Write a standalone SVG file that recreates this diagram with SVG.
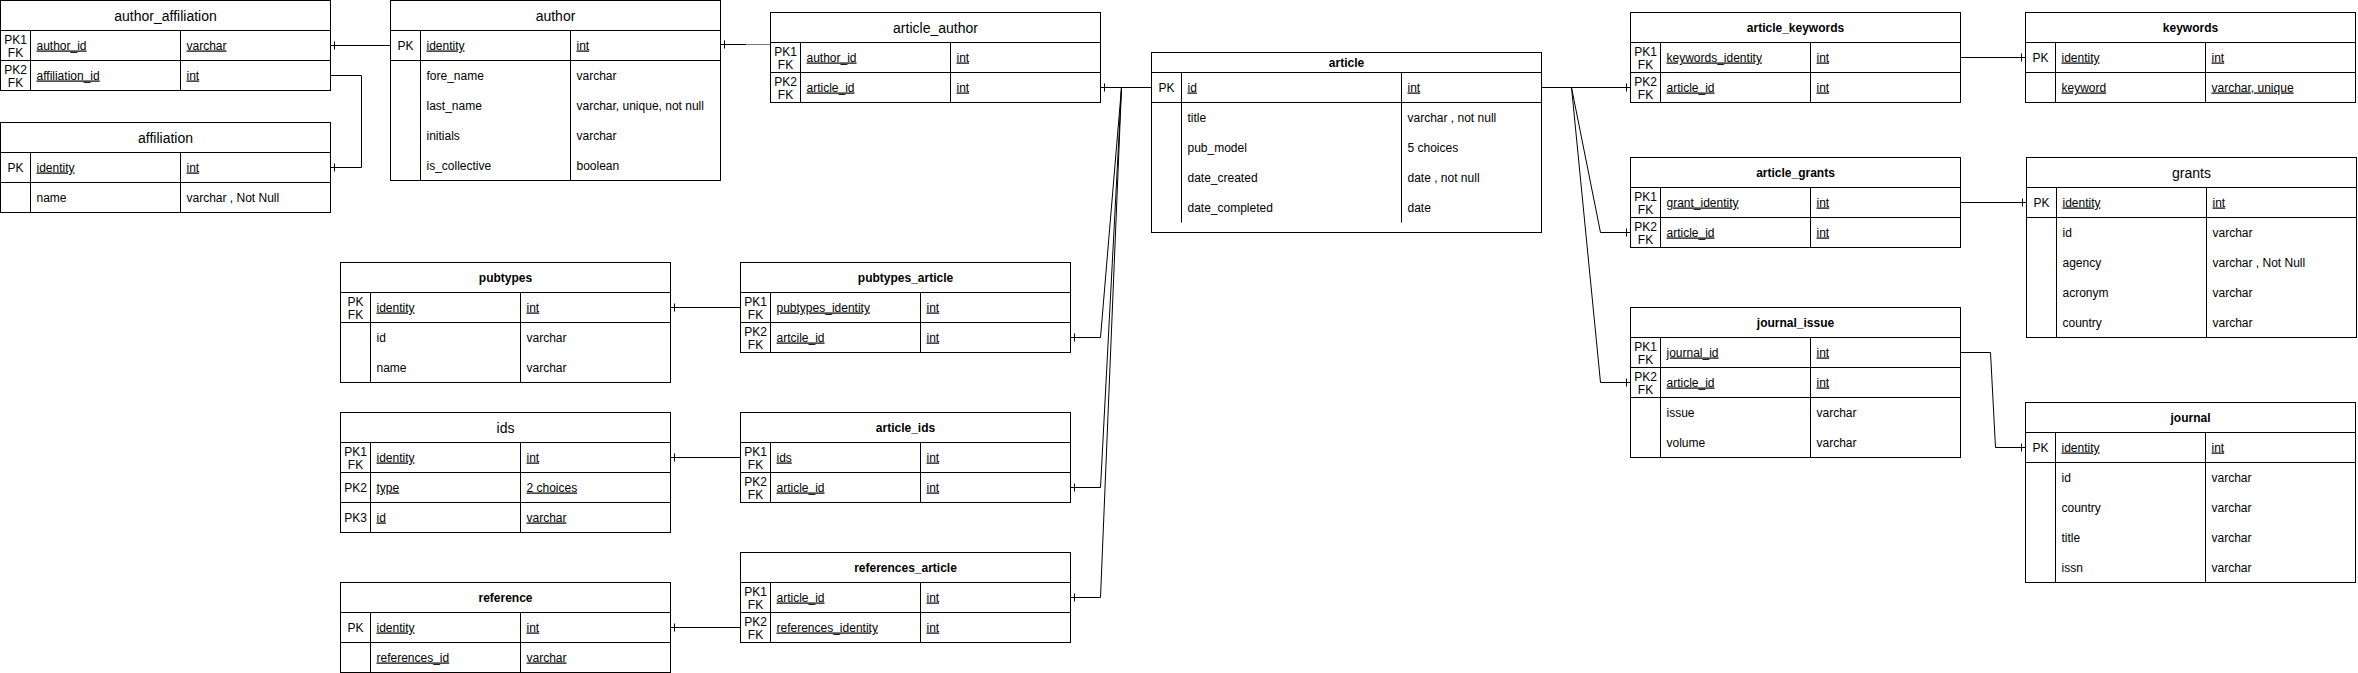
<svg xmlns="http://www.w3.org/2000/svg" width="2358" height="673" viewBox="0 0 2358 673">
<style>
.b{fill:#fff;stroke:#000;stroke-width:1}
.l{stroke:#000;stroke-width:1;fill:none}
.t{font-family:"Liberation Sans",Arial,sans-serif;font-size:12px;fill:#000}
.k{text-anchor:middle}
.h14{font-size:14px;text-anchor:middle}
.hb{font-weight:bold;text-anchor:middle}
.u{text-decoration:underline}
</style>
<rect width="2358" height="673" fill="#fff"/>

<g id="connectors">
<path class="l" d="M330.5 45.5H390.5M334.5 41.5V49.5"/>
<path class="l" d="M330.5 75.5H361.5V167.5H330.5M334.5 163.5V171.5"/>
<path class="l" d="M720.5 44.5H746M724.5 40.5V48.5"/>
<path d="M746 44.5H777" stroke="#777" stroke-width="1"/>
<path class="l" d="M1151.5 87.5H1100.5M1104.5 83.5V91.5"/>
<path class="l" d="M1121.5 87.5L1100.5 337.5H1070.5M1074.5 333.5V341.5"/>
<path class="l" d="M1121.5 87.5L1100.5 487.5H1070.5M1074.5 483.5V491.5"/>
<path class="l" d="M1121.5 87.5L1100.5 597.5H1070.5M1074.5 593.5V601.5"/>
<path class="l" d="M1541.5 87.5H1630.5M1626.5 83.5V91.5"/>
<path class="l" d="M1571.5 87.5L1600.5 232.5H1630.5M1626.5 228.5V236.5"/>
<path class="l" d="M1571.5 87.5L1600.5 382.5H1630.5M1626.5 378.5V386.5"/>
<path class="l" d="M1960.5 57.5H2025.5M2021.5 53.5V61.5"/>
<path class="l" d="M1960.5 202.5H2026.5M2022.5 198.5V206.5"/>
<path class="l" d="M1960.5 352.5H1990.5L1995.5 447.5H2025.5M2021.5 443.5V451.5"/>
<path class="l" d="M670.5 307.5H740.5M674.5 303.5V311.5"/>
<path class="l" d="M670.5 457.5H740.5M674.5 453.5V461.5"/>
<path class="l" d="M670.5 627.5H740.5M674.5 623.5V631.5"/>
</g>

<g id="author_affiliation">
<rect class="b" x="0.5" y="0.5" width="330" height="90"/>
<path class="l" d="M0.5 30.5H330.5M0.5 60.5H330.5M30.5 30.5V90.5M180.5 30.5V90.5"/>
<text class="t h14" x="165.5" y="20.5">author_affiliation</text>
<text class="t k" x="15.5" y="44">PK1<tspan x="15.5" dy="13">FK</tspan></text>
<text class="t u" x="36.5" y="49.5">author_id</text><text class="t u" x="186.5" y="49.5">varchar</text>
<text class="t k" x="15.5" y="74">PK2<tspan x="15.5" dy="13">FK</tspan></text>
<text class="t u" x="36.5" y="79.5">affiliation_id</text><text class="t u" x="186.5" y="79.5">int</text>
</g>

<g id="affiliation">
<rect class="b" x="0.5" y="122.5" width="330" height="90"/>
<path class="l" d="M0.5 152.5H330.5M0.5 182.5H330.5M30.5 152.5V212.5M180.5 152.5V212.5"/>
<text class="t h14" x="165.5" y="142.5">affiliation</text>
<text class="t k" x="15.5" y="171.5">PK</text>
<text class="t u" x="36.5" y="171.5">identity</text><text class="t u" x="186.5" y="171.5">int</text>
<text class="t" x="36.5" y="201.5">name</text><text class="t" x="186.5" y="201.5">varchar , Not Null</text>
</g>

<g id="author">
<rect class="b" x="390.5" y="0.5" width="330" height="180"/>
<path class="l" d="M390.5 30.5H720.5M390.5 60.5H720.5M420.5 30.5V180.5M570.5 30.5V180.5"/>
<text class="t h14" x="555.5" y="20.5">author</text>
<text class="t k" x="405.5" y="49.5">PK</text>
<text class="t u" x="426.5" y="49.5">identity</text><text class="t u" x="576.5" y="49.5">int</text>
<text class="t" x="426.5" y="79.5">fore_name</text><text class="t" x="576.5" y="79.5">varchar</text>
<text class="t" x="426.5" y="109.5">last_name</text><text class="t" x="576.5" y="109.5">varchar, unique, not null</text>
<text class="t" x="426.5" y="139.5">initials</text><text class="t" x="576.5" y="139.5">varchar</text>
<text class="t" x="426.5" y="169.5">is_collective</text><text class="t" x="576.5" y="169.5">boolean</text>
</g>

<g id="article_author">
<rect class="b" x="770.5" y="12.5" width="330" height="90"/>
<path class="l" d="M770.5 42.5H1100.5M770.5 72.5H1100.5M800.5 42.5V102.5M950.5 42.5V102.5"/>
<text class="t h14" x="935.5" y="32.5">article_author</text>
<text class="t k" x="785.5" y="56">PK1<tspan x="785.5" dy="13">FK</tspan></text>
<text class="t u" x="806.5" y="61.5">author_id</text><text class="t u" x="956.5" y="61.5">int</text>
<text class="t k" x="785.5" y="86">PK2<tspan x="785.5" dy="13">FK</tspan></text>
<text class="t u" x="806.5" y="91.5">article_id</text><text class="t u" x="956.5" y="91.5">int</text>
</g>

<g id="article">
<rect class="b" x="1151.5" y="52.5" width="390" height="180"/>
<path class="l" d="M1151.5 72.5H1541.5M1151.5 102.5H1541.5M1181.5 72.5V222.5M1401.5 72.5V222.5"/>
<text class="t hb" x="1346.5" y="66.5">article</text>
<text class="t k" x="1166.5" y="91.5">PK</text>
<text class="t u" x="1187.5" y="91.5">id</text><text class="t u" x="1407.5" y="91.5">int</text>
<text class="t" x="1187.5" y="121.5">title</text><text class="t" x="1407.5" y="121.5">varchar , not null</text>
<text class="t" x="1187.5" y="151.5">pub_model</text><text class="t" x="1407.5" y="151.5">5 choices</text>
<text class="t" x="1187.5" y="181.5">date_created</text><text class="t" x="1407.5" y="181.5">date , not null</text>
<text class="t" x="1187.5" y="211.5">date_completed</text><text class="t" x="1407.5" y="211.5">date</text>
</g>

<g id="article_keywords">
<rect class="b" x="1630.5" y="12.5" width="330" height="90"/>
<path class="l" d="M1630.5 42.5H1960.5M1630.5 72.5H1960.5M1660.5 42.5V102.5M1810.5 42.5V102.5"/>
<text class="t hb" x="1795.5" y="31.5">article_keywords</text>
<text class="t k" x="1645.5" y="56">PK1<tspan x="1645.5" dy="13">FK</tspan></text>
<text class="t u" x="1666.5" y="61.5">keywords_identity</text><text class="t u" x="1816.5" y="61.5">int</text>
<text class="t k" x="1645.5" y="86">PK2<tspan x="1645.5" dy="13">FK</tspan></text>
<text class="t u" x="1666.5" y="91.5">article_id</text><text class="t u" x="1816.5" y="91.5">int</text>
</g>

<g id="keywords">
<rect class="b" x="2025.5" y="12.5" width="330" height="90"/>
<path class="l" d="M2025.5 42.5H2355.5M2025.5 72.5H2355.5M2055.5 42.5V102.5M2205.5 42.5V102.5"/>
<text class="t hb" x="2190.5" y="31.5">keywords</text>
<text class="t k" x="2040.5" y="61.5">PK</text>
<text class="t u" x="2061.5" y="61.5">identity</text><text class="t u" x="2211.5" y="61.5">int</text>
<text class="t u" x="2061.5" y="91.5">keyword</text><text class="t u" x="2211.5" y="91.5">varchar, unique</text>
</g>

<g id="article_grants">
<rect class="b" x="1630.5" y="157.5" width="330" height="90"/>
<path class="l" d="M1630.5 187.5H1960.5M1630.5 217.5H1960.5M1660.5 187.5V247.5M1810.5 187.5V247.5"/>
<text class="t hb" x="1795.5" y="176.5">article_grants</text>
<text class="t k" x="1645.5" y="201">PK1<tspan x="1645.5" dy="13">FK</tspan></text>
<text class="t u" x="1666.5" y="206.5">grant_identity</text><text class="t u" x="1816.5" y="206.5">int</text>
<text class="t k" x="1645.5" y="231">PK2<tspan x="1645.5" dy="13">FK</tspan></text>
<text class="t u" x="1666.5" y="236.5">article_id</text><text class="t u" x="1816.5" y="236.5">int</text>
</g>

<g id="grants">
<rect class="b" x="2026.5" y="157.5" width="330" height="180"/>
<path class="l" d="M2026.5 187.5H2356.5M2026.5 217.5H2356.5M2056.5 187.5V337.5M2206.5 187.5V337.5"/>
<text class="t h14" x="2191.5" y="177.5">grants</text>
<text class="t k" x="2041.5" y="206.5">PK</text>
<text class="t u" x="2062.5" y="206.5">identity</text><text class="t u" x="2212.5" y="206.5">int</text>
<text class="t" x="2062.5" y="236.5">id</text><text class="t" x="2212.5" y="236.5">varchar</text>
<text class="t" x="2062.5" y="266.5">agency</text><text class="t" x="2212.5" y="266.5">varchar , Not Null</text>
<text class="t" x="2062.5" y="296.5">acronym</text><text class="t" x="2212.5" y="296.5">varchar</text>
<text class="t" x="2062.5" y="326.5">country</text><text class="t" x="2212.5" y="326.5">varchar</text>
</g>

<g id="journal_issue">
<rect class="b" x="1630.5" y="307.5" width="330" height="150"/>
<path class="l" d="M1630.5 337.5H1960.5M1630.5 367.5H1960.5M1630.5 397.5H1960.5M1660.5 337.5V457.5M1810.5 337.5V457.5"/>
<text class="t hb" x="1795.5" y="326.5">journal_issue</text>
<text class="t k" x="1645.5" y="351">PK1<tspan x="1645.5" dy="13">FK</tspan></text>
<text class="t u" x="1666.5" y="356.5">journal_id</text><text class="t u" x="1816.5" y="356.5">int</text>
<text class="t k" x="1645.5" y="381">PK2<tspan x="1645.5" dy="13">FK</tspan></text>
<text class="t u" x="1666.5" y="386.5">article_id</text><text class="t u" x="1816.5" y="386.5">int</text>
<text class="t" x="1666.5" y="416.5">issue</text><text class="t" x="1816.5" y="416.5">varchar</text>
<text class="t" x="1666.5" y="446.5">volume</text><text class="t" x="1816.5" y="446.5">varchar</text>
</g>

<g id="journal">
<rect class="b" x="2025.5" y="402.5" width="330" height="180"/>
<path class="l" d="M2025.5 432.5H2355.5M2025.5 462.5H2355.5M2055.5 432.5V582.5M2205.5 432.5V582.5"/>
<text class="t hb" x="2190.5" y="421.5">journal</text>
<text class="t k" x="2040.5" y="451.5">PK</text>
<text class="t u" x="2061.5" y="451.5">identity</text><text class="t u" x="2211.5" y="451.5">int</text>
<text class="t" x="2061.5" y="481.5">id</text><text class="t" x="2211.5" y="481.5">varchar</text>
<text class="t" x="2061.5" y="511.5">country</text><text class="t" x="2211.5" y="511.5">varchar</text>
<text class="t" x="2061.5" y="541.5">title</text><text class="t" x="2211.5" y="541.5">varchar</text>
<text class="t" x="2061.5" y="571.5">issn</text><text class="t" x="2211.5" y="571.5">varchar</text>
</g>

<g id="pubtypes">
<rect class="b" x="340.5" y="262.5" width="330" height="120"/>
<path class="l" d="M340.5 292.5H670.5M340.5 322.5H670.5M370.5 292.5V382.5M520.5 292.5V382.5"/>
<text class="t hb" x="505.5" y="281.5">pubtypes</text>
<text class="t k" x="355.5" y="306">PK<tspan x="355.5" dy="13">FK</tspan></text>
<text class="t u" x="376.5" y="311.5">identity</text><text class="t u" x="526.5" y="311.5">int</text>
<text class="t" x="376.5" y="341.5">id</text><text class="t" x="526.5" y="341.5">varchar</text>
<text class="t" x="376.5" y="371.5">name</text><text class="t" x="526.5" y="371.5">varchar</text>
</g>

<g id="pubtypes_article">
<rect class="b" x="740.5" y="262.5" width="330" height="90"/>
<path class="l" d="M740.5 292.5H1070.5M740.5 322.5H1070.5M770.5 292.5V352.5M920.5 292.5V352.5"/>
<text class="t hb" x="905.5" y="281.5">pubtypes_article</text>
<text class="t k" x="755.5" y="306">PK1<tspan x="755.5" dy="13">FK</tspan></text>
<text class="t u" x="776.5" y="311.5">pubtypes_identity</text><text class="t u" x="926.5" y="311.5">int</text>
<text class="t k" x="755.5" y="336">PK2<tspan x="755.5" dy="13">FK</tspan></text>
<text class="t u" x="776.5" y="341.5">artcile_id</text><text class="t u" x="926.5" y="341.5">int</text>
</g>

<g id="ids">
<rect class="b" x="340.5" y="412.5" width="330" height="120"/>
<path class="l" d="M340.5 442.5H670.5M340.5 472.5H670.5M340.5 502.5H670.5M370.5 442.5V532.5M520.5 442.5V532.5"/>
<text class="t h14" x="505.5" y="432.5">ids</text>
<text class="t k" x="355.5" y="456">PK1<tspan x="355.5" dy="13">FK</tspan></text>
<text class="t u" x="376.5" y="461.5">identity</text><text class="t u" x="526.5" y="461.5">int</text>
<text class="t k" x="355.5" y="491.5">PK2</text>
<text class="t u" x="376.5" y="491.5">type</text><text class="t u" x="526.5" y="491.5">2 choices</text>
<text class="t k" x="355.5" y="521.5">PK3</text>
<text class="t u" x="376.5" y="521.5">id</text><text class="t u" x="526.5" y="521.5">varchar</text>
</g>

<g id="article_ids">
<rect class="b" x="740.5" y="412.5" width="330" height="90"/>
<path class="l" d="M740.5 442.5H1070.5M740.5 472.5H1070.5M770.5 442.5V502.5M920.5 442.5V502.5"/>
<text class="t hb" x="905.5" y="431.5">article_ids</text>
<text class="t k" x="755.5" y="456">PK1<tspan x="755.5" dy="13">FK</tspan></text>
<text class="t u" x="776.5" y="461.5">ids</text><text class="t u" x="926.5" y="461.5">int</text>
<text class="t k" x="755.5" y="486">PK2<tspan x="755.5" dy="13">FK</tspan></text>
<text class="t u" x="776.5" y="491.5">article_id</text><text class="t u" x="926.5" y="491.5">int</text>
</g>

<g id="reference">
<rect class="b" x="340.5" y="582.5" width="330" height="90"/>
<path class="l" d="M340.5 612.5H670.5M340.5 642.5H670.5M370.5 612.5V672.5M520.5 612.5V672.5"/>
<text class="t hb" x="505.5" y="601.5">reference</text>
<text class="t k" x="355.5" y="631.5">PK</text>
<text class="t u" x="376.5" y="631.5">identity</text><text class="t u" x="526.5" y="631.5">int</text>
<text class="t u" x="376.5" y="661.5">references_id</text><text class="t u" x="526.5" y="661.5">varchar</text>
</g>

<g id="references_article">
<rect class="b" x="740.5" y="552.5" width="330" height="90"/>
<path class="l" d="M740.5 582.5H1070.5M740.5 612.5H1070.5M770.5 582.5V642.5M920.5 582.5V642.5"/>
<text class="t hb" x="905.5" y="571.5">references_article</text>
<text class="t k" x="755.5" y="596">PK1<tspan x="755.5" dy="13">FK</tspan></text>
<text class="t u" x="776.5" y="601.5">article_id</text><text class="t u" x="926.5" y="601.5">int</text>
<text class="t k" x="755.5" y="626">PK2<tspan x="755.5" dy="13">FK</tspan></text>
<text class="t u" x="776.5" y="631.5">references_identity</text><text class="t u" x="926.5" y="631.5">int</text>
</g>
</svg>
